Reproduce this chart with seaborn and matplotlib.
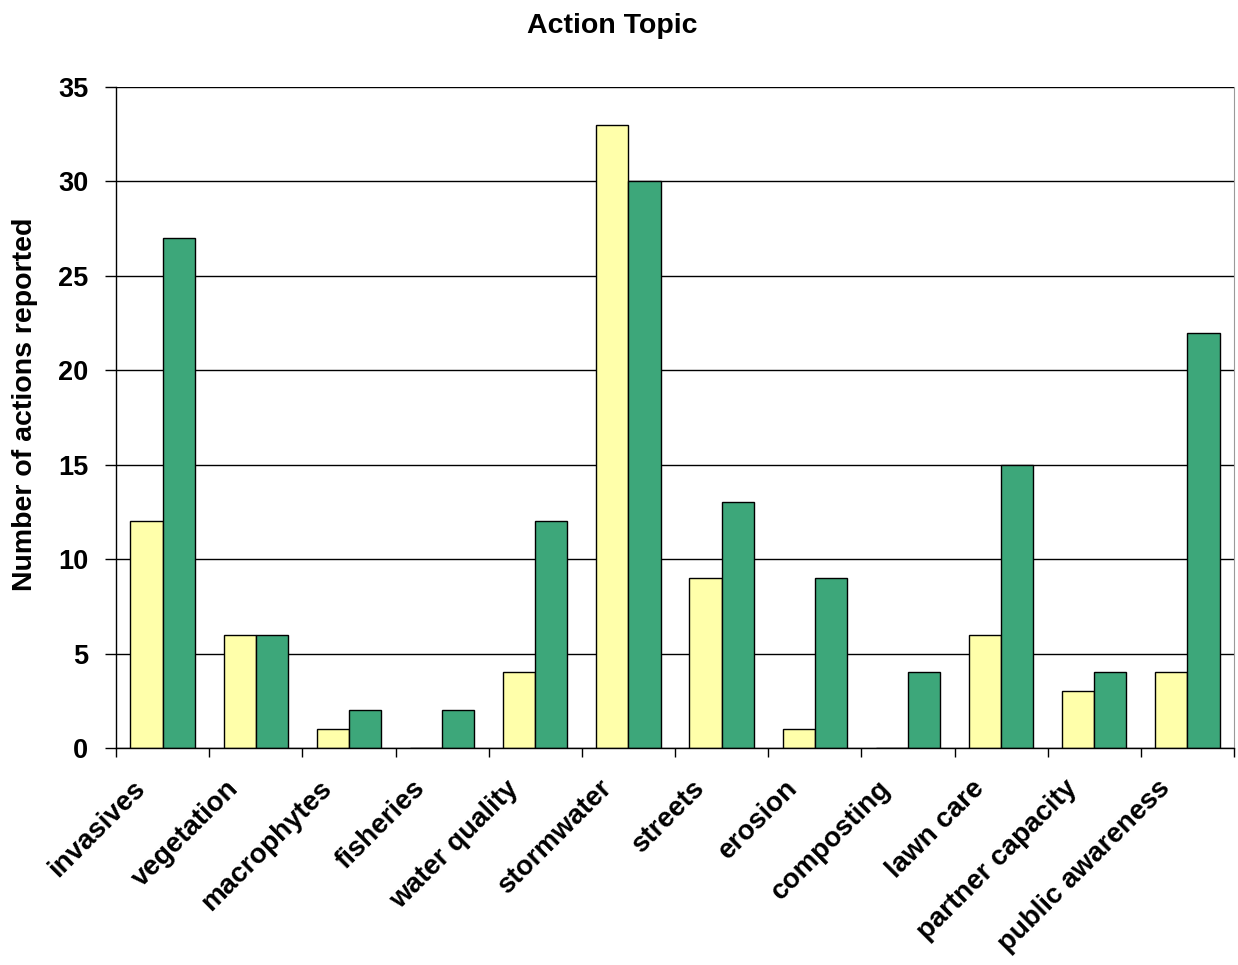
import numpy as np
import pandas as pd
import matplotlib
matplotlib.use("Agg")
import matplotlib.pyplot as plt
import matplotlib.transforms as mtransforms
import seaborn as sns

# values
topics = ["invasives", "vegetation", "macrophytes", "fisheries", "water quality",
          "stormwater", "streets", "erosion", "composting", "lawn care",
          "partner capacity", "public awareness"]
series_a = [12, 6, 1, 0, 4, 33, 9, 1, 0, 6, 3, 4]
series_b = [27, 6, 2, 2, 12, 30, 13, 9, 4, 15, 4, 22]
series_names = ["Series 1", "Series 2"]

df = pd.DataFrame({
    "topic": topics * 2,
    "count": series_a + series_b,
    "series": [series_names[0]] * len(topics) + [series_names[1]] * len(topics),
})

sns.set_style("white", {"xtick.bottom": True, "ytick.left": True})
plt.rcParams["font.family"] = ["Liberation Sans", "DejaVu Sans"]
plt.rcParams["font.weight"] = "bold"
for key in ["text.color", "axes.labelcolor", "xtick.color", "ytick.color"]:
    plt.rcParams[key] = "black"

fig = plt.figure(figsize=(12.38, 9.65), dpi=100)
ax = fig.add_axes([0.0937, 0.2249, 0.9031, 0.6849])

sns.barplot(data=df, x="topic", y="count", hue="series", order=topics,
            palette=["#FFFFAA", "#3DA77A"], width=0.69, edgecolor="black",
            linewidth=1, saturation=1, ax=ax, legend=False)

ax.set_ylim(0, 35)
ax.set_xlim(-0.5, len(topics) - 0.5)
ax.set_yticks(range(0, 36, 5))
ax.yaxis.grid(True, color="black", linewidth=1)
ax.set_axisbelow(True)

# tick marks between groups, labels at group centres
ax.set_xticks(np.arange(-0.5, len(topics), 1.0), minor=True)
ax.tick_params(axis="x", which="minor", bottom=True, length=6.5, width=1, color="black")
ax.tick_params(axis="x", which="major", bottom=True, length=0, pad=14)
ax.tick_params(axis="y", left=True, length=8, width=1, color="black", labelsize=19.5, pad=12)
ax.set_xticks(range(len(topics)))
ax.set_xticklabels(topics, rotation=45, ha="right", rotation_mode="anchor",
                   fontsize=20, fontweight="bold")
shift = mtransforms.ScaledTranslation(-0.30, -0.08, fig.dpi_scale_trans)
for lab in ax.get_xticklabels():
    lab.set_transform(lab.get_transform() + shift)
for lab in ax.get_yticklabels():
    lab.set_fontweight("bold")

for side in ["left", "bottom"]:
    ax.spines[side].set_color("black")
    ax.spines[side].set_linewidth(1)
ax.spines["top"].set_visible(False)
ax.spines["right"].set_color("#999999")

ax.set_xlabel("")
ax.set_ylabel("")
fig.text(25 / 1238, 1 - 404 / 965, "Number of actions reported", rotation=90,
         ha="center", va="center", fontsize=20.5, fontweight="bold")
fig.text(612 / 1238, 1 - 33 / 965, "Action Topic", ha="center", va="baseline",
         fontsize=20.5, fontweight="bold")

fig.savefig("out.png", dpi=100)
